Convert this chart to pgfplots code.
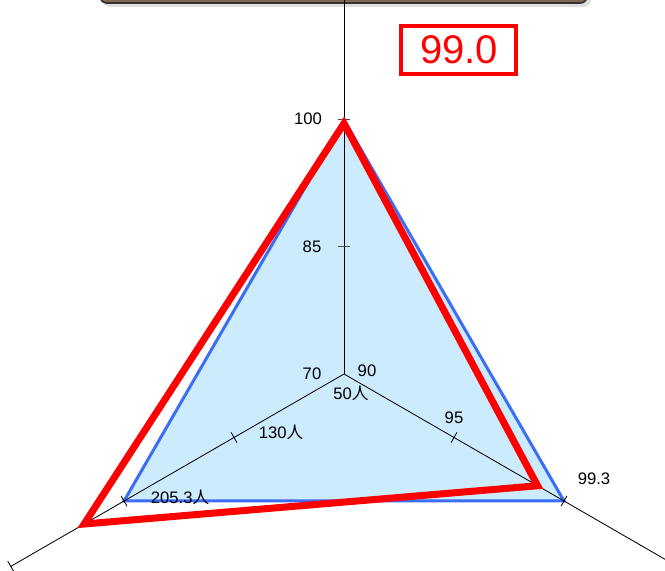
\documentclass[border=0pt]{standalone}
\usepackage{pgfplots}
\pgfplotsset{compat=1.18}
\usepackage{pgfplotstable}
\usepackage{fontspec}
\setmainfont{Liberation Sans}
\newfontfamily\cjk{Noto Sans CJK JP}
\definecolor{fillblue}{RGB}{204,235,252}
\definecolor{lineblue}{RGB}{60,110,245}
\definecolor{banner}{RGB}{125,104,82}
\pgfplotstableread{
ang val lo hi
90 100 70 100
-30 100 90 100
210 210 50 210
}\maxdata
\pgfplotstableread{
ang val lo hi
90 99.6 70 100
-30 98.8 90 100
210 239 50 210
}\scoredata
\begin{document}
\begin{tikzpicture}
\begin{axis}[
  width=399pt, height=342.6pt, scale only axis,
  xmin=0, xmax=665, ymin=-571, ymax=0,
  hide axis, clip=true,
  every node/.style={font=\fontsize{10}{12}\selectfont},
]
% banner (title box, cut off at top)
\addplot[fill=gray, fill opacity=0.25, draw=none, rounded corners=4pt] coordinates {(103,-7) (591,-7) (591,40) (103,40)} -- cycle;
\addplot[line width=1pt, draw=black!80, fill=banner, rounded corners=4pt] coordinates {(100,-3) (587,-3) (587,40) (100,40)} -- cycle;
\addplot[fill=fillblue, draw=lineblue, line width=1.8pt, line join=miter] table[
  x expr={344+254*(\thisrow{val}-\thisrow{lo})/(\thisrow{hi}-\thisrow{lo})*cos(\thisrow{ang})},
  y expr={-374+254*(\thisrow{val}-\thisrow{lo})/(\thisrow{hi}-\thisrow{lo})*sin(\thisrow{ang})}
] {\maxdata} -- cycle;
% radial axes
\addplot[black, line width=0.6pt] coordinates {(344,-374) (344,5)};
\addplot[black, line width=0.5pt] coordinates {(344,-374) (700,-579.5)};
\addplot[black, line width=0.5pt] coordinates {(344,-374) (10.8,-566.4)};
% ticks
\addplot[black!70, line width=0.6pt] coordinates {(338,-120) (350,-120)};
\addplot[black!70, line width=0.6pt] coordinates {(338,-247) (350,-247)};
\addplot[black, line width=0.5pt] coordinates {(451,-442.7) (457,-432.3)};
\addplot[black, line width=0.5pt] coordinates {(561,-506.2) (567,-495.8)};
\addplot[black, line width=0.5pt] coordinates {(237,-442.7) (231,-432.3)};
\addplot[black, line width=0.5pt] coordinates {(127,-506.2) (121,-495.8)};
\addplot[black, line width=0.5pt] coordinates {(13.8,-571.6) (7.8,-561.2)};
% score polygon
\addplot[draw=red, line width=4.2pt, line join=miter] table[
  x expr={344+254*(\thisrow{val}-\thisrow{lo})/(\thisrow{hi}-\thisrow{lo})*cos(\thisrow{ang})},
  y expr={-374+254*(\thisrow{val}-\thisrow{lo})/(\thisrow{hi}-\thisrow{lo})*sin(\thisrow{ang})}
] {\scoredata} -- cycle;
% labels
\node at (axis cs:308,-119) {100};
\node at (axis cs:312,-247) {85};
\node at (axis cs:312,-374) {70};
\node at (axis cs:367,-371) {90};
\node at (axis cs:351,-393) {50{\cjk 人}};
\node at (axis cs:454,-418) {95};
\node at (axis cs:281,-432) {130{\cjk 人}};
\node at (axis cs:180,-497) {205.3{\cjk 人}};
\node at (axis cs:594,-479) {99.3};
\addplot[red, line width=2.4pt] coordinates {(401,-26) (516,-26) (516,-74) (401,-74)} -- cycle;
\node[text=red, font=\fontsize{24}{28}\selectfont] at (axis cs:459,-50) {99.0};
\end{axis}
\pgfresetboundingbox
\useasboundingbox (current axis.south west) rectangle (current axis.north east);
\end{tikzpicture}
\end{document}
